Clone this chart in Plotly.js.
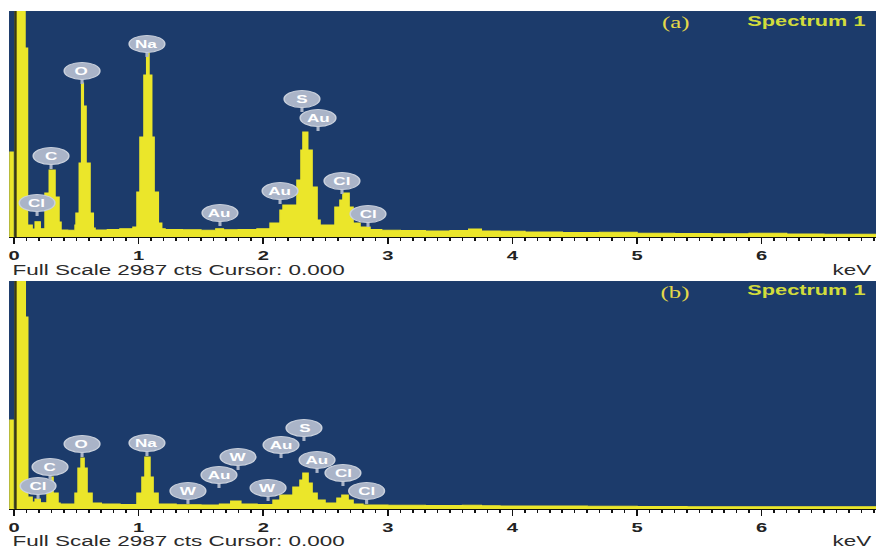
<!DOCTYPE html>
<html>
<head>
<meta charset="utf-8">
<script src="https://cdn.plot.ly/plotly-3.0.1.min.js"></script>
<style>
  html, body { margin: 0; padding: 0; background: #ffffff; overflow: hidden; }
  /* the EDS screen capture is wide: draw at native width and stretch horizontally */
  #wrap { width: 565px; height: 548px; transform: scaleX(1.55044); transform-origin: 0 0; }
  #plot { width: 565px; height: 548px; }
</style>
</head>
<body>
<div id="wrap"><div id="plot"></div></div>
<script>
// ---- Spectrum (a): energy (keV) and counts, stepped channels ----
const energyA = [-0.05, -0.032, -0.008, 0.012, 0.088, 0.108, 0.145, 0.17, 0.21, 0.249, 0.283, 0.329, 0.361, 0.377,
  0.43, 0.49, 0.498, 0.524, 0.543, 0.556, 0.578, 0.61, 0.636, 0.65, 0.75, 0.85, 0.955, 0.987, 1.011, 1.043, 1.065,
  1.083, 1.105, 1.124, 1.158, 1.185, 1.212, 1.35, 1.5, 1.62, 1.68, 1.8, 1.95, 2.055, 2.135, 2.159, 2.271, 2.303,
  2.319, 2.357, 2.392, 2.432, 2.456, 2.576, 2.616, 2.64, 2.689, 2.721, 2.777, 2.857, 2.95, 3.1, 3.3, 3.5, 3.65,
  3.75, 3.9, 4.1, 4.4, 4.7, 5.0, 5.3, 5.6, 5.9, 6.2, 6.5, 6.8, 6.95];
const countsA = [0, 1124, 0, 4000, 2498, 160, 105, 200, 110, 582, 886, 529, 198, 93,
  88, 160, 317, 978, 2036, 1732, 978, 317, 120, 93, 100, 110, 132, 595, 1322, 2142, 2433,
  2142, 1322, 595, 185, 110, 100, 95, 90, 110, 95, 100, 110, 185, 357, 423, 754, 1150,
  1388, 1150, 661, 225, 159, 397, 489, 582, 397, 185, 132, 100, 90, 85, 80, 85, 106,
  80, 75, 65, 60, 62, 50, 45, 42, 48, 40, 38, 35, 35];

// ---- Spectrum (b) ----
const energyB = [-0.05, -0.032, -0.008, 0.012, 0.09, 0.11, 0.145, 0.17, 0.21, 0.265, 0.289, 0.313, 0.353, 0.369,
  0.43, 0.49, 0.514, 0.538, 0.562, 0.586, 0.626, 0.7, 0.85, 0.987, 1.027, 1.051, 1.091, 1.116, 1.156, 1.3, 1.5,
  1.65, 1.74, 1.82, 1.95, 2.079, 2.135, 2.239, 2.295, 2.319, 2.36, 2.392, 2.432, 2.496, 2.592, 2.632, 2.681,
  2.721, 2.8, 3.0, 3.3, 3.6, 3.75, 3.9, 4.2, 4.6, 5.0, 5.4, 5.8, 6.2, 6.6, 6.95];
const countsB = [0, 1166, 0, 4000, 2515, 157, 90, 130, 80, 249, 419, 210, 79, 66,
  66, 210, 537, 668, 537, 210, 79, 66, 60, 210, 419, 681, 419, 210, 66, 55, 52,
  66, 105, 66, 60, 118, 183, 288, 380, 472, 341, 210, 118, 79, 144, 183, 118,
  66, 52, 48, 45, 50, 42, 40, 38, 35, 32, 30, 30, 28, 28, 28];

// ---- Element line markers: name, energy (keV), counts at the marker tip ----
const elemA = ['Cl', 'C', 'O', 'Na', 'Au', 'Au', 'S', 'Au', 'Cl', 'Cl'];
const elemEnergyA = [0.185, 0.297, 0.546, 1.067, 1.653, 2.135, 2.311, 2.440, 2.632, 2.841];
const elemTipA = [278, 899, 2023, 2380, 145, 436, 1652, 1401, 568, 132];

const elemB = ['Cl', 'C', 'O', 'Na', 'W', 'Au', 'W', 'W', 'Au', 'S', 'Au', 'Cl', 'Cl'];
const elemEnergyB = [0.193, 0.289, 0.546, 1.067, 1.396, 1.645, 1.798, 2.039, 2.143, 2.327, 2.432, 2.640, 2.830];
const elemTipB = [131, 380, 681, 694, 66, 275, 511, 105, 668, 891, 472, 301, 66];

const keVTicks = [0, 1, 2, 3, 4, 5, 6];
const fullScale = 2987;
const footer = 'Full Scale 2987 cts Cursor: 0.000';
const panelTags = ['(a)', '(b)'];
const spectrumName = 'Spectrum 1';

const BG = '#1c3b6b';
const YEL = '#ebe62a';
const BADGE = '#aab4c8';

function spectrumTrace(x, y, xa, ya) {
  return { x: x, y: y, xaxis: xa, yaxis: ya, type: 'scatter', mode: 'lines',
    line: { shape: 'hv', width: 1, color: YEL }, fill: 'tozeroy', fillcolor: YEL, hoverinfo: 'skip' };
}

const shapes = [];
const annotations = [];

function addMarkers(names, energies, tips, xr, yr) {
  for (let i = 0; i < names.length; i++) {
    shapes.push({ type: 'line', xref: xr, yref: yr, xsizemode: 'pixel', ysizemode: 'pixel',
      xanchor: energies[i], yanchor: tips[i], x0: 0, x1: 0, y0: 0, y1: 7,
      line: { color: BADGE, width: 2 } });
    shapes.push({ type: 'circle', xref: xr, yref: yr, xsizemode: 'pixel', ysizemode: 'pixel',
      xanchor: energies[i], yanchor: tips[i], x0: -11.5, x1: 11.5, y0: 4.5, y1: 21.5,
      fillcolor: BADGE, line: { color: '#c9d0dc', width: 1 } });
    annotations.push({ x: energies[i], y: tips[i], xref: xr, yref: yr, text: names[i], showarrow: false,
      yshift: 13, font: { family: 'Liberation Sans, Arial, sans-serif', size: 11, color: '#ffffff', weight: 'bold' } });
  }
}
addMarkers(elemA, elemEnergyA, elemTipA, 'x', 'y');
addMarkers(elemB, elemEnergyB, elemTipB, 'x2', 'y2');

// cursor at 0.000 keV
['y', 'y2'].forEach(function (yr, k) {
  shapes.push({ type: 'line', xref: k ? 'x2' : 'x', yref: yr + ' domain', x0: 0.012, x1: 0.012, y0: 0, y1: 1,
    line: { color: '#3a3812', width: 1.5 } });
});

// panel texts
const panelY = [{ tag: 0.958, spec: 0.9617, foot: 0.507 }, { tag: 0.4653, spec: 0.4708, foot: 0.0128 }];
panelY.forEach(function (p, k) {
  annotations.push({ xref: 'paper', yref: 'paper', x: 0.791, y: p.tag, yanchor: 'middle', text: panelTags[k],
    showarrow: false, font: { family: 'Liberation Serif, Times New Roman, serif', size: 16, color: '#e4d84a' } });
  annotations.push({ xref: 'paper', yref: 'paper', x: 0.991, y: p.spec, xanchor: 'right', yanchor: 'middle',
    text: spectrumName, showarrow: false,
    font: { family: 'Liberation Sans, Arial, sans-serif', size: 14, color: '#d2dc3c', weight: 'bold' } });
  annotations.push({ xref: 'paper', yref: 'paper', x: 0.0114, y: p.foot, xanchor: 'left', yanchor: 'middle',
    text: footer, showarrow: false,
    font: { family: 'Liberation Sans, Arial, sans-serif', size: 14.5, color: '#2a2a2a' } });
  annotations.push({ xref: 'paper', yref: 'paper', x: 0.998, y: p.foot, xanchor: 'right', yanchor: 'middle',
    text: 'keV', showarrow: false,
    font: { family: 'Liberation Sans, Arial, sans-serif', size: 14.5, color: '#2a2a2a' } });
});

function xAxis(anchor) {
  return { domain: [0.0103, 1], range: [-0.0401, 6.918], anchor: anchor, showgrid: false, zeroline: false,
    tickmode: 'array', tickvals: keVTicks, ticktext: keVTicks.map(String),
    ticks: 'outside', ticklen: 6, tickwidth: 1, tickcolor: '#111', showline: true, linecolor: '#111', linewidth: 1,
    minor: { dtick: 0.1, tick0: 0, ticks: 'outside', ticklen: 3, tickwidth: 1, tickcolor: '#111', showgrid: false },
    tickfont: { family: 'Liberation Sans, Arial, sans-serif', size: 13, color: '#222', weight: 'bold' },
    fixedrange: true };
}
function yAxis(dom, anchor) {
  return { domain: dom, range: [0, fullScale], visible: false, fixedrange: true, anchor: anchor };
}

const layout = {
  width: 565, height: 548,
  margin: { l: 0, r: 0, t: 0, b: 0 },
  paper_bgcolor: '#ffffff', plot_bgcolor: BG,
  showlegend: false,
  xaxis: xAxis('y'), yaxis: yAxis([0.5675, 0.9799], 'x'),
  xaxis2: xAxis('y2'), yaxis2: yAxis([0.0712, 0.4872], 'x2'),
  shapes: shapes, annotations: annotations
};

Plotly.newPlot('plot', [spectrumTrace(energyA, countsA, 'x', 'y'), spectrumTrace(energyB, countsB, 'x2', 'y2')],
  layout, { displayModeBar: false, staticPlot: true });
</script>
</body>
</html>
